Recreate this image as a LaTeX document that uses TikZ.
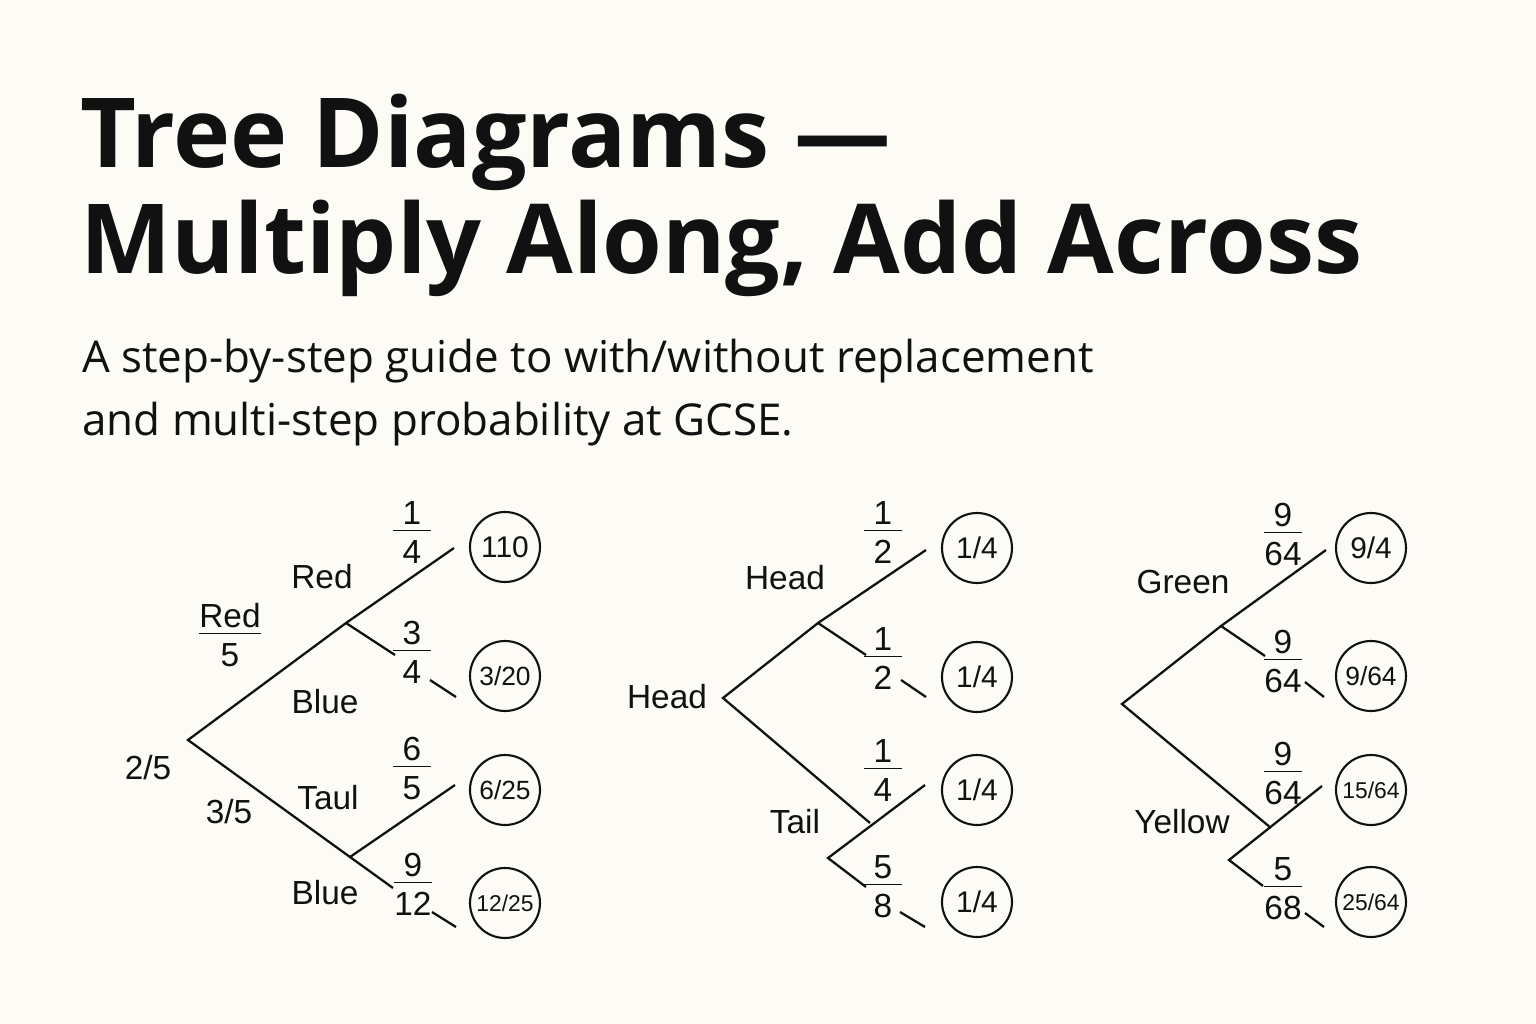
\documentclass[tikz,border=0pt]{standalone}
\usepackage{fontspec}
\setmainfont{Liberation Sans}
\newfontfamily\titlefont{Open Sans}
\definecolor{bg}{HTML}{FCFBF6}
\definecolor{ink}{HTML}{111111}
\newcommand\myfr[2]{\begin{tabular}{@{}c@{}}\makebox[1.15em]{#1}\\[-3pt]\hline\rule{0pt}{1.0em}#2\end{tabular}}
\begin{document}
\begin{tikzpicture}[x=0.02cm,y=-0.02cm,
  br/.style={line width=1.3pt,draw=ink},
  lab/.style={font=\fontsize{19}{22}\selectfont,text=ink,inner sep=0},
  fr/.style={font=\fontsize{19}{20}\selectfont,text=ink,inner sep=0},
  res/.style={circle,draw=ink,line width=1.2pt,minimum size=1.4cm,inner sep=0,font=\fontsize{17}{18}\selectfont,text=ink}]
\fill[bg] (0,0) rectangle (1536,1024);
\useasboundingbox (0,0) rectangle (1536,1024);
\node[anchor=base west,inner sep=0,font=\titlefont\bfseries\fontsize{55}{60}\selectfont,text=ink] (t1) at (80,168) {Tree Diagrams —};
\node[anchor=base west,inner sep=0,font=\titlefont\bfseries\fontsize{55}{60}\selectfont,text=ink] (t2) at (80,274) {Multiply Along, Add Across};
\node[anchor=base west,inner sep=0,font=\titlefont\fontsize{25}{30}\selectfont,text=ink] (s1) at (82,372) {A step-by-step guide to with/without replacement};
\node[anchor=base west,inner sep=0,font=\titlefont\fontsize{25}{30}\selectfont,text=ink] (s2) at (82,435) {and multi-step probability at GCSE.};
% ---- Tree 1
\coordinate (a0) at (188,740); \coordinate (a1) at (346,623); \coordinate (a2) at (350,857);
\coordinate (a1u) at (454,548); \coordinate (a1d) at (395,655);
\coordinate (a2u) at (455,785); \coordinate (a2d) at (393,888);
\coordinate (s1a) at (430,680); \coordinate (s1b) at (456,697);
\coordinate (s2a) at (432,912); \coordinate (s2b) at (456,927);
\draw[br] (a1u) -- (a1) -- (a0) -- (a2) -- (a2u);
\draw[br] (a1) -- (a1d); \draw[br] (a2) -- (a2d);
\draw[br] (s1a) -- (s1b); \draw[br] (s2a) -- (s2b);
\node[res] (r11) at (505,547) {110};
\node[res] (r12) at (505,676) {\fontsize{15}{16}\selectfont 3/20};
\node[res] (r13) at (505,790) {\fontsize{15}{16}\selectfont 6/25};
\node[res] (r14) at (505,903) {\fontsize{13}{14}\selectfont 12/25};
\node[lab] (l11) at (322,577) {Red};
\node[fr] (l12) at (230,640) {\begin{tabular}{@{}c@{}}Red\\[-3pt]\hline\rule{0pt}{1.0em}5\end{tabular}};
\node[lab] (l13) at (325,702) {Blue};
\node[lab] (l14) at (148,768) {2/5};
\node[lab] (l15) at (229,812) {3/5};
\node[lab] (l16) at (328,798) {Taul};
\node[lab] (l17) at (325,893) {Blue};
\node[fr] (f11) at (412,537) {\myfr{1}{4}};
\node[fr] (f12) at (412,657) {\myfr{3}{4}};
\node[fr] (f13) at (412,773) {\myfr{6}{5}};
\node[fr] (f14) at (413,889) {\myfr{9}{12}};
% ---- Tree 2
\coordinate (b0) at (723,698); \coordinate (b1) at (818,623); \coordinate (b2) at (870,823);
\coordinate (b3) at (828,858);
\coordinate (b1u) at (926,550); \coordinate (b1d) at (866,655);
\coordinate (b3u) at (925,785); \coordinate (b3d) at (866,887);
\coordinate (t1a) at (901,680); \coordinate (t1b) at (926,697);
\coordinate (t2a) at (900,912); \coordinate (t2b) at (925,927);
\draw[br] (b1u) -- (b1) -- (b0) -- (b2);
\draw[br] (b1) -- (b1d); \draw[br] (b3u) -- (b3) -- (b3d);
\draw[br] (t1a) -- (t1b); \draw[br] (t2a) -- (t2b);
\node[res] (r21) at (977,548) {1/4};
\node[res] (r22) at (977,677) {1/4};
\node[res] (r23) at (977,790) {1/4};
\node[res] (r24) at (977,902) {1/4};
\node[lab] (l21) at (667,697) {Head};
\node[lab] (l22) at (785,578) {Head};
\node[lab] (l23) at (795,822) {Tail};
\node[fr] (f21) at (883,537) {\myfr{1}{2}};
\node[fr] (f22) at (883,663) {\myfr{1}{2}};
\node[fr] (f23) at (883,775) {\myfr{1}{4}};
\node[fr] (f24) at (883,891) {\myfr{5}{8}};
% ---- Tree 3
\coordinate (c0) at (1122,704); \coordinate (c1) at (1221,626); \coordinate (c2) at (1271,828);
\coordinate (c3) at (1229,860);
\coordinate (c1u) at (1326,550); \coordinate (c1d) at (1265,656);
\coordinate (c3u) at (1322,786); \coordinate (c3d) at (1263,886);
\coordinate (u1a) at (1305,682); \coordinate (u1b) at (1324,697);
\coordinate (u2a) at (1305,913); \coordinate (u2b) at (1324,927);
\draw[br] (c1u) -- (c1) -- (c0) -- (c2);
\draw[br] (c1) -- (c1d); \draw[br] (c3u) -- (c3) -- (c3d);
\draw[br] (u1a) -- (u1b); \draw[br] (u2a) -- (u2b);
\node[res] (r31) at (1371,548) {9/4};
\node[res] (r32) at (1371,676) {\fontsize{15}{16}\selectfont 9/64};
\node[res] (r33) at (1371,790) {\fontsize{13}{14}\selectfont 15/64};
\node[res] (r34) at (1371,902) {\fontsize{13}{14}\selectfont 25/64};
\node[lab] (l31) at (1183,582) {Green};
\node[lab] (l32) at (1182,822) {Yellow};
\node[fr] (f31) at (1283,539) {\myfr{9}{64}};
\node[fr] (f32) at (1283,666) {\myfr{9}{64}};
\node[fr] (f33) at (1283,778) {\myfr{9}{64}};
\node[fr] (f34) at (1283,893) {\myfr{5}{68}};
\end{tikzpicture}
\end{document}
